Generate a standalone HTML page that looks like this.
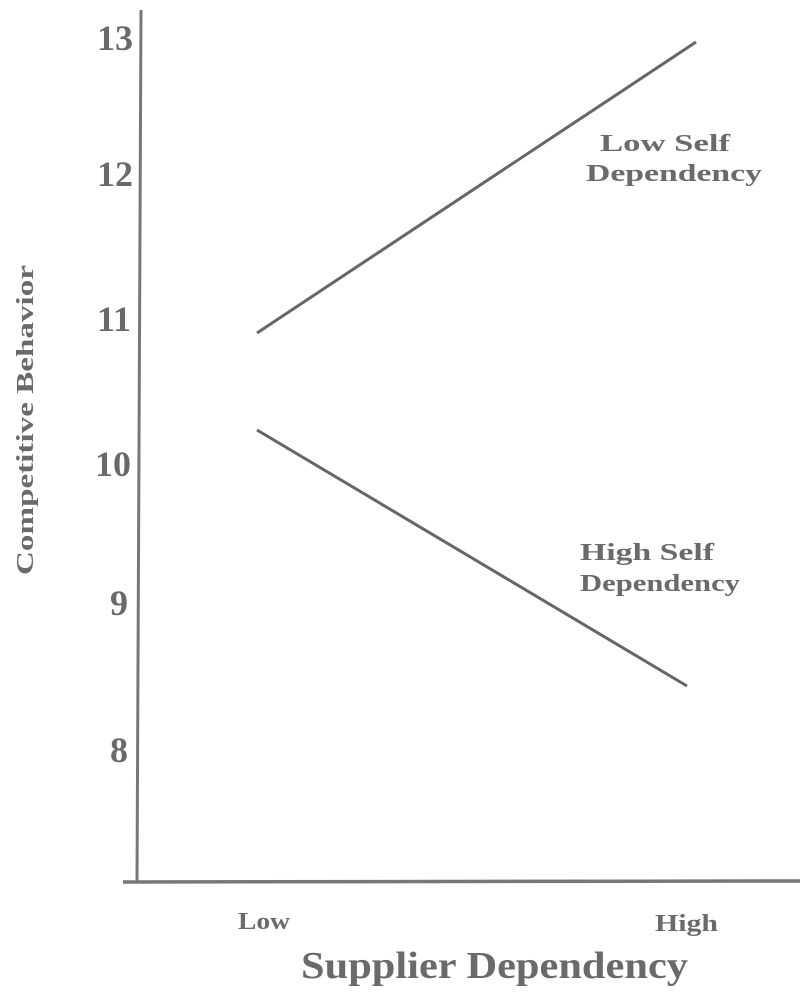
<!DOCTYPE html>
<html><head><meta charset="utf-8"><style>
html,body{margin:0;padding:0;background:#fff;}
svg text{font-family:"Liberation Serif",serif;font-weight:bold;fill:#6a6a6a;}
</style></head><body>
<svg width="808" height="988" viewBox="0 0 808 988" xmlns="http://www.w3.org/2000/svg">
<rect width="808" height="988" fill="#fff"/>
<line x1="141" y1="10" x2="137" y2="883" stroke="#777" stroke-width="3"/>
<line x1="123" y1="882" x2="800" y2="881" stroke="#777" stroke-width="3.5"/>
<g font-size="36" text-anchor="end">
<text x="133" y="50">13</text>
<text x="133" y="186">12</text>
<text x="131" y="331">11</text>
<text x="131" y="476">10</text>
<text x="128" y="615">9</text>
<text x="128" y="762">8</text>
</g>
<text transform="translate(33,575) rotate(-90)" font-size="24" textLength="310" lengthAdjust="spacingAndGlyphs">Competitive Behavior</text>
<line x1="257" y1="333" x2="696" y2="42" stroke="#666" stroke-width="3"/>
<line x1="257" y1="430" x2="687" y2="686" stroke="#666" stroke-width="3"/>
<g font-size="24">
<text x="600" y="151" textLength="130" lengthAdjust="spacingAndGlyphs">Low Self</text>
<text x="586" y="181" textLength="176" lengthAdjust="spacingAndGlyphs">Dependency</text>
<text x="580" y="560" textLength="134" lengthAdjust="spacingAndGlyphs">High Self</text>
<text x="580" y="591" textLength="160" lengthAdjust="spacingAndGlyphs">Dependency</text>
<text x="238" y="929" textLength="52" lengthAdjust="spacingAndGlyphs">Low</text>
<text x="655" y="931" textLength="63" lengthAdjust="spacingAndGlyphs">High</text>
</g>
<text x="301" y="978" font-size="38" textLength="387" lengthAdjust="spacingAndGlyphs">Supplier Dependency</text>
</svg>
</body></html>
